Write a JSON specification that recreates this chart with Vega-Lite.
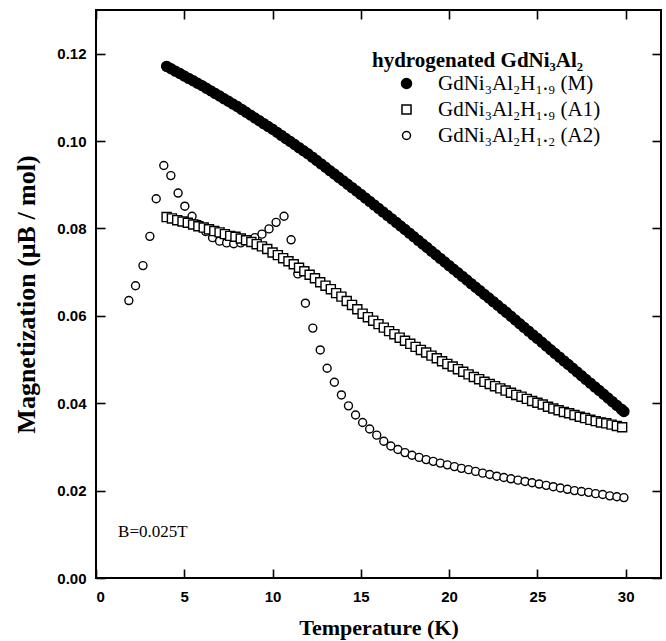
{
  "$schema": "https://vega.github.io/schema/vega-lite/v6.json",
  "width": 565,
  "height": 568,
  "autosize": {"type": "none"},
  "padding": {"left": 96, "top": 10, "right": 5, "bottom": 63},
  "background": "white",
  "config": {
    "view": {"stroke": "black", "strokeWidth": 2},
    "axis": {"domain": false, "grid": false, "labelFont": "Liberation Sans", "labelFontWeight": "bold", "labelFontSize": 15, "labelColor": "black", "titleFont": "Liberation Serif", "titleFontWeight": "bold", "titleFontSize": 22, "titleColor": "black"},
    "legend": {"titleFont": "Liberation Serif", "titleFontWeight": "bold", "titleFontSize": 21, "titleColor": "black", "titleLimit": 500, "labelLimit": 500, "labelFont": "Liberation Serif", "labelFontSize": 21, "labelColor": "black"}
  },
  "datasets": {
    "pts": [
      {"T":1.86,"M":0.0635,"s":"A2"},{"T":2.24,"M":0.0669,"s":"A2"},{"T":2.66,"M":0.0715,"s":"A2"},{"T":3.05,"M":0.0782,"s":"A2"},{"T":3.41,"M":0.0868,"s":"A2"},{"T":3.84,"M":0.0944,"s":"A2"},{"T":4.24,"M":0.0921,"s":"A2"},{"T":4.65,"M":0.0881,"s":"A2"},{"T":5.03,"M":0.0851,"s":"A2"},{"T":5.44,"M":0.0828,"s":"A2"},{"T":5.83,"M":0.0809,"s":"A2"},{"T":6.21,"M":0.0793,"s":"A2"},{"T":6.6,"M":0.0779,"s":"A2"},{"T":7.0,"M":0.0771,"s":"A2"},{"T":7.4,"M":0.0767,"s":"A2"},{"T":7.8,"M":0.0765,"s":"A2"},{"T":8.2,"M":0.0767,"s":"A2"},{"T":8.6,"M":0.0772,"s":"A2"},{"T":9.0,"M":0.0779,"s":"A2"},{"T":9.4,"M":0.0787,"s":"A2"},{"T":9.8,"M":0.0799,"s":"A2"},{"T":10.2,"M":0.0814,"s":"A2"},{"T":10.65,"M":0.0828,"s":"A2"},{"T":11.05,"M":0.0774,"s":"A2"},{"T":11.43,"M":0.0696,"s":"A2"},{"T":11.86,"M":0.0629,"s":"A2"},{"T":12.28,"M":0.0572,"s":"A2"},{"T":12.7,"M":0.0522,"s":"A2"},{"T":13.09,"M":0.048,"s":"A2"},{"T":13.5,"M":0.0448,"s":"A2"},{"T":13.9,"M":0.0419,"s":"A2"},{"T":14.3,"M":0.0394,"s":"A2"},{"T":14.7,"M":0.0373,"s":"A2"},{"T":15.1,"M":0.0356,"s":"A2"},{"T":15.5,"M":0.0341,"s":"A2"},{"T":15.9,"M":0.0327,"s":"A2"},{"T":16.3,"M":0.0313,"s":"A2"},{"T":16.7,"M":0.0302,"s":"A2"},{"T":17.1,"M":0.0294,"s":"A2"},{"T":17.5,"M":0.0287,"s":"A2"},{"T":17.9,"M":0.0281,"s":"A2"},{"T":18.3,"M":0.0276,"s":"A2"},{"T":18.7,"M":0.0271,"s":"A2"},{"T":19.1,"M":0.0267,"s":"A2"},{"T":19.5,"M":0.0263,"s":"A2"},{"T":19.9,"M":0.0259,"s":"A2"},{"T":20.3,"M":0.0255,"s":"A2"},{"T":20.7,"M":0.0251,"s":"A2"},{"T":21.1,"M":0.0248,"s":"A2"},{"T":21.5,"M":0.0244,"s":"A2"},{"T":21.9,"M":0.024,"s":"A2"},{"T":22.3,"M":0.0237,"s":"A2"},{"T":22.7,"M":0.0233,"s":"A2"},{"T":23.1,"M":0.023,"s":"A2"},{"T":23.5,"M":0.0227,"s":"A2"},{"T":23.9,"M":0.0224,"s":"A2"},{"T":24.3,"M":0.0221,"s":"A2"},{"T":24.7,"M":0.0218,"s":"A2"},{"T":25.1,"M":0.0215,"s":"A2"},{"T":25.5,"M":0.0212,"s":"A2"},{"T":25.9,"M":0.0209,"s":"A2"},{"T":26.3,"M":0.0206,"s":"A2"},{"T":26.7,"M":0.0203,"s":"A2"},{"T":27.1,"M":0.02,"s":"A2"},{"T":27.5,"M":0.0198,"s":"A2"},{"T":27.9,"M":0.0196,"s":"A2"},{"T":28.3,"M":0.0193,"s":"A2"},{"T":28.7,"M":0.0191,"s":"A2"},{"T":29.1,"M":0.0188,"s":"A2"},{"T":29.5,"M":0.0186,"s":"A2"},{"T":29.9,"M":0.0184,"s":"A2"},
      {"T":4.0,"M":0.0826,"s":"A1"},{"T":4.3,"M":0.0823,"s":"A1"},{"T":4.6,"M":0.0819,"s":"A1"},{"T":4.9,"M":0.0816,"s":"A1"},{"T":5.2,"M":0.0813,"s":"A1"},{"T":5.5,"M":0.0809,"s":"A1"},{"T":5.8,"M":0.0805,"s":"A1"},{"T":6.1,"M":0.0802,"s":"A1"},{"T":6.4,"M":0.0798,"s":"A1"},{"T":6.7,"M":0.0794,"s":"A1"},{"T":7.0,"M":0.0791,"s":"A1"},{"T":7.3,"M":0.0787,"s":"A1"},{"T":7.6,"M":0.0783,"s":"A1"},{"T":7.9,"M":0.0781,"s":"A1"},{"T":8.2,"M":0.0777,"s":"A1"},{"T":8.5,"M":0.0773,"s":"A1"},{"T":8.8,"M":0.0769,"s":"A1"},{"T":9.1,"M":0.0764,"s":"A1"},{"T":9.4,"M":0.0759,"s":"A1"},{"T":9.7,"M":0.0753,"s":"A1"},{"T":10.0,"M":0.0745,"s":"A1"},{"T":10.3,"M":0.0739,"s":"A1"},{"T":10.6,"M":0.0732,"s":"A1"},{"T":10.9,"M":0.0725,"s":"A1"},{"T":11.2,"M":0.0718,"s":"A1"},{"T":11.5,"M":0.071,"s":"A1"},{"T":11.8,"M":0.0702,"s":"A1"},{"T":12.1,"M":0.0694,"s":"A1"},{"T":12.4,"M":0.0686,"s":"A1"},{"T":12.7,"M":0.0677,"s":"A1"},{"T":13.0,"M":0.0669,"s":"A1"},{"T":13.3,"M":0.0661,"s":"A1"},{"T":13.6,"M":0.0652,"s":"A1"},{"T":13.9,"M":0.0644,"s":"A1"},{"T":14.2,"M":0.0634,"s":"A1"},{"T":14.5,"M":0.0625,"s":"A1"},{"T":14.8,"M":0.0615,"s":"A1"},{"T":15.1,"M":0.0605,"s":"A1"},{"T":15.4,"M":0.0597,"s":"A1"},{"T":15.7,"M":0.0589,"s":"A1"},{"T":16.0,"M":0.0581,"s":"A1"},{"T":16.3,"M":0.0573,"s":"A1"},{"T":16.6,"M":0.0565,"s":"A1"},{"T":16.9,"M":0.0558,"s":"A1"},{"T":17.2,"M":0.055,"s":"A1"},{"T":17.5,"M":0.0543,"s":"A1"},{"T":17.8,"M":0.0536,"s":"A1"},{"T":18.1,"M":0.0529,"s":"A1"},{"T":18.4,"M":0.0522,"s":"A1"},{"T":18.7,"M":0.0516,"s":"A1"},{"T":19.0,"M":0.0509,"s":"A1"},{"T":19.3,"M":0.0503,"s":"A1"},{"T":19.6,"M":0.0496,"s":"A1"},{"T":19.9,"M":0.049,"s":"A1"},{"T":20.2,"M":0.0484,"s":"A1"},{"T":20.5,"M":0.0478,"s":"A1"},{"T":20.8,"M":0.0472,"s":"A1"},{"T":21.1,"M":0.0466,"s":"A1"},{"T":21.4,"M":0.046,"s":"A1"},{"T":21.7,"M":0.0455,"s":"A1"},{"T":22.0,"M":0.0449,"s":"A1"},{"T":22.3,"M":0.0444,"s":"A1"},{"T":22.6,"M":0.0439,"s":"A1"},{"T":22.9,"M":0.0434,"s":"A1"},{"T":23.2,"M":0.0429,"s":"A1"},{"T":23.5,"M":0.0424,"s":"A1"},{"T":23.8,"M":0.0419,"s":"A1"},{"T":24.1,"M":0.0415,"s":"A1"},{"T":24.4,"M":0.041,"s":"A1"},{"T":24.7,"M":0.0405,"s":"A1"},{"T":25.0,"M":0.0401,"s":"A1"},{"T":25.3,"M":0.0397,"s":"A1"},{"T":25.6,"M":0.0392,"s":"A1"},{"T":25.9,"M":0.0388,"s":"A1"},{"T":26.2,"M":0.0384,"s":"A1"},{"T":26.5,"M":0.038,"s":"A1"},{"T":26.8,"M":0.0377,"s":"A1"},{"T":27.1,"M":0.0373,"s":"A1"},{"T":27.4,"M":0.0369,"s":"A1"},{"T":27.7,"M":0.0366,"s":"A1"},{"T":28.0,"M":0.0362,"s":"A1"},{"T":28.3,"M":0.0359,"s":"A1"},{"T":28.6,"M":0.0356,"s":"A1"},{"T":28.9,"M":0.0354,"s":"A1"},{"T":29.2,"M":0.0351,"s":"A1"},{"T":29.5,"M":0.0348,"s":"A1"},{"T":29.8,"M":0.0345,"s":"A1"},
      {"T":4.0,"M":0.1171,"s":"M"},{"T":4.25,"M":0.11655,"s":"M"},{"T":4.5,"M":0.116,"s":"M"},{"T":4.75,"M":0.11545,"s":"M"},{"T":5.0,"M":0.1149,"s":"M"},{"T":5.25,"M":0.11435,"s":"M"},{"T":5.5,"M":0.1138,"s":"M"},{"T":5.75,"M":0.11325,"s":"M"},{"T":6.0,"M":0.1127,"s":"M"},{"T":6.25,"M":0.1121,"s":"M"},{"T":6.5,"M":0.1115,"s":"M"},{"T":6.75,"M":0.1109,"s":"M"},{"T":7.0,"M":0.1103,"s":"M"},{"T":7.25,"M":0.1097,"s":"M"},{"T":7.5,"M":0.1091,"s":"M"},{"T":7.75,"M":0.1085,"s":"M"},{"T":8.0,"M":0.1079,"s":"M"},{"T":8.25,"M":0.10725,"s":"M"},{"T":8.5,"M":0.1066,"s":"M"},{"T":8.75,"M":0.10595,"s":"M"},{"T":9.0,"M":0.1053,"s":"M"},{"T":9.25,"M":0.10465,"s":"M"},{"T":9.5,"M":0.104,"s":"M"},{"T":9.75,"M":0.10335,"s":"M"},{"T":10.0,"M":0.1027,"s":"M"},{"T":10.25,"M":0.102,"s":"M"},{"T":10.5,"M":0.1013,"s":"M"},{"T":10.75,"M":0.1006,"s":"M"},{"T":11.0,"M":0.0999,"s":"M"},{"T":11.25,"M":0.0992,"s":"M"},{"T":11.5,"M":0.0985,"s":"M"},{"T":11.75,"M":0.0978,"s":"M"},{"T":12.0,"M":0.0971,"s":"M"},{"T":12.25,"M":0.09633,"s":"M"},{"T":12.5,"M":0.09555,"s":"M"},{"T":12.75,"M":0.09478,"s":"M"},{"T":13.0,"M":0.094,"s":"M"},{"T":13.25,"M":0.09323,"s":"M"},{"T":13.5,"M":0.09245,"s":"M"},{"T":13.75,"M":0.09168,"s":"M"},{"T":14.0,"M":0.0909,"s":"M"},{"T":14.25,"M":0.09013,"s":"M"},{"T":14.5,"M":0.08935,"s":"M"},{"T":14.75,"M":0.08858,"s":"M"},{"T":15.0,"M":0.0878,"s":"M"},{"T":15.25,"M":0.087,"s":"M"},{"T":15.5,"M":0.0862,"s":"M"},{"T":15.75,"M":0.0854,"s":"M"},{"T":16.0,"M":0.0846,"s":"M"},{"T":16.25,"M":0.0838,"s":"M"},{"T":16.5,"M":0.083,"s":"M"},{"T":16.75,"M":0.0822,"s":"M"},{"T":17.0,"M":0.0814,"s":"M"},{"T":17.25,"M":0.08058,"s":"M"},{"T":17.5,"M":0.07975,"s":"M"},{"T":17.75,"M":0.07893,"s":"M"},{"T":18.0,"M":0.0781,"s":"M"},{"T":18.25,"M":0.07728,"s":"M"},{"T":18.5,"M":0.07645,"s":"M"},{"T":18.75,"M":0.07563,"s":"M"},{"T":19.0,"M":0.0748,"s":"M"},{"T":19.25,"M":0.07398,"s":"M"},{"T":19.5,"M":0.07315,"s":"M"},{"T":19.75,"M":0.07233,"s":"M"},{"T":20.0,"M":0.0715,"s":"M"},{"T":20.25,"M":0.07068,"s":"M"},{"T":20.5,"M":0.06985,"s":"M"},{"T":20.75,"M":0.06903,"s":"M"},{"T":21.0,"M":0.0682,"s":"M"},{"T":21.25,"M":0.06738,"s":"M"},{"T":21.5,"M":0.06655,"s":"M"},{"T":21.75,"M":0.06573,"s":"M"},{"T":22.0,"M":0.0649,"s":"M"},{"T":22.25,"M":0.06408,"s":"M"},{"T":22.5,"M":0.06325,"s":"M"},{"T":22.75,"M":0.06243,"s":"M"},{"T":23.0,"M":0.0616,"s":"M"},{"T":23.25,"M":0.06075,"s":"M"},{"T":23.5,"M":0.0599,"s":"M"},{"T":23.75,"M":0.05905,"s":"M"},{"T":24.0,"M":0.0582,"s":"M"},{"T":24.25,"M":0.05735,"s":"M"},{"T":24.5,"M":0.0565,"s":"M"},{"T":24.75,"M":0.05565,"s":"M"},{"T":25.0,"M":0.0548,"s":"M"},{"T":25.25,"M":0.05395,"s":"M"},{"T":25.5,"M":0.0531,"s":"M"},{"T":25.75,"M":0.05225,"s":"M"},{"T":26.0,"M":0.0514,"s":"M"},{"T":26.25,"M":0.05055,"s":"M"},{"T":26.5,"M":0.0497,"s":"M"},{"T":26.75,"M":0.04885,"s":"M"},{"T":27.0,"M":0.048,"s":"M"},{"T":27.25,"M":0.04715,"s":"M"},{"T":27.5,"M":0.0463,"s":"M"},{"T":27.75,"M":0.04545,"s":"M"},{"T":28.0,"M":0.0446,"s":"M"},{"T":28.25,"M":0.04375,"s":"M"},{"T":28.5,"M":0.0429,"s":"M"},{"T":28.75,"M":0.04205,"s":"M"},{"T":29.0,"M":0.0412,"s":"M"},{"T":29.25,"M":0.04035,"s":"M"},{"T":29.5,"M":0.0395,"s":"M"},{"T":29.75,"M":0.03865,"s":"M"},{"T":29.9,"M":0.0381,"s":"M"}
    ],
    "note": [{"T": 1.25, "M": 0.0105, "t": "B=0.025T"}]
  },
  "data": {"name": "pts"},
  "layer": [
    {
      "mark": {"type": "point", "filled": true, "stroke": "black", "strokeWidth": 1.4, "opacity": 1},
      "encoding": {
        "x": {"field": "T", "type": "quantitative", "scale": {"domain": [0, 32], "nice": false, "zero": false},
          "axis": {"orient": "bottom", "title": "Temperature (K)", "titlePadding": 13, "values": [0, 5, 10, 15, 20, 25, 30], "format": "d", "ticks": true, "tickSize": -9, "tickColor": "black", "tickOpacity": 1, "tickWidth": 1.6, "labelPadding": 20}},
        "y": {"field": "M", "type": "quantitative", "scale": {"domain": [0, 0.13], "nice": false, "zero": false},
          "axis": {"orient": "left", "title": "Magnetization (μB / mol)", "titleFontSize": 26, "titlePadding": 17, "values": [0, 0.02, 0.04, 0.06, 0.08, 0.1, 0.12], "format": ".2f", "ticks": true, "tickSize": -9, "tickColor": "black", "tickOpacity": 1, "tickWidth": 1.6, "labelPadding": 19}},
        "shape": {"field": "s", "type": "nominal", "scale": {"domain": ["M", "A1", "A2"], "range": ["circle", "square", "circle"]},
          "legend": {"title": "hydrogenated GdNi₃Al₂", "orient": "none", "legendX": 276, "legendY": 40, "titlePadding": 2, "symbolOffset": 24, "labelOffset": 21, "rowPadding": 4, "labelExpr": "datum.label === 'M' ? 'GdNi₃Al₂H₁.₉ (M)' : datum.label === 'A1' ? 'GdNi₃Al₂H₁.₉ (A1)' : 'GdNi₃Al₂H₁.₂ (A2)'", "encode": {"symbols": {"update": {"stroke": {"value": "black"}, "strokeWidth": {"value": 1.4}}}}}},
        "fill": {"field": "s", "type": "nominal", "scale": {"domain": ["M", "A1", "A2"], "range": ["black", "white", "white"]},
          "legend": {"title": "hydrogenated GdNi₃Al₂", "orient": "none", "legendX": 276, "legendY": 40, "titlePadding": 2, "symbolOffset": 24, "labelOffset": 21, "rowPadding": 4, "labelExpr": "datum.label === 'M' ? 'GdNi₃Al₂H₁.₉ (M)' : datum.label === 'A1' ? 'GdNi₃Al₂H₁.₉ (A1)' : 'GdNi₃Al₂H₁.₂ (A2)'", "encode": {"symbols": {"update": {"stroke": {"value": "black"}, "strokeWidth": {"value": 1.4}}}}}},
        "size": {"field": "s", "type": "nominal", "scale": {"domain": ["M", "A1", "A2"], "range": [100, 64, 100]},
          "legend": {"title": "hydrogenated GdNi₃Al₂", "orient": "none", "legendX": 276, "legendY": 40, "titlePadding": 2, "symbolOffset": 24, "labelOffset": 21, "rowPadding": 4, "labelExpr": "datum.label === 'M' ? 'GdNi₃Al₂H₁.₉ (M)' : datum.label === 'A1' ? 'GdNi₃Al₂H₁.₉ (A1)' : 'GdNi₃Al₂H₁.₂ (A2)'", "encode": {"symbols": {"update": {"stroke": {"value": "black"}, "strokeWidth": {"value": 1.4}}}}}}
      }
    },
    {
      "mark": {"type": "point", "opacity": 0},
      "encoding": {
        "x": {"field": "T", "type": "quantitative", "axis": {"orient": "top", "title": null, "labels": false, "values": [0, 5, 10, 15, 20, 25, 30], "ticks": true, "tickSize": 9, "offset": -9, "tickColor": "black", "tickOpacity": 1, "tickWidth": 1.6}},
        "y": {"field": "M", "type": "quantitative", "axis": {"orient": "right", "title": null, "labels": false, "values": [0, 0.02, 0.04, 0.06, 0.08, 0.1, 0.12], "ticks": true, "tickSize": 9, "offset": -9, "tickColor": "black", "tickOpacity": 1, "tickWidth": 1.6}}
      }
    },
    {
      "data": {"name": "note"},
      "mark": {"type": "text", "align": "left", "baseline": "middle", "font": "Liberation Serif", "fontSize": 17, "color": "black"},
      "encoding": {
        "x": {"field": "T", "type": "quantitative", "axis": null},
        "y": {"field": "M", "type": "quantitative", "axis": null},
        "text": {"field": "t"}
      }
    }
  ],
  "resolve": {"axis": {"x": "independent", "y": "independent"}}
}
